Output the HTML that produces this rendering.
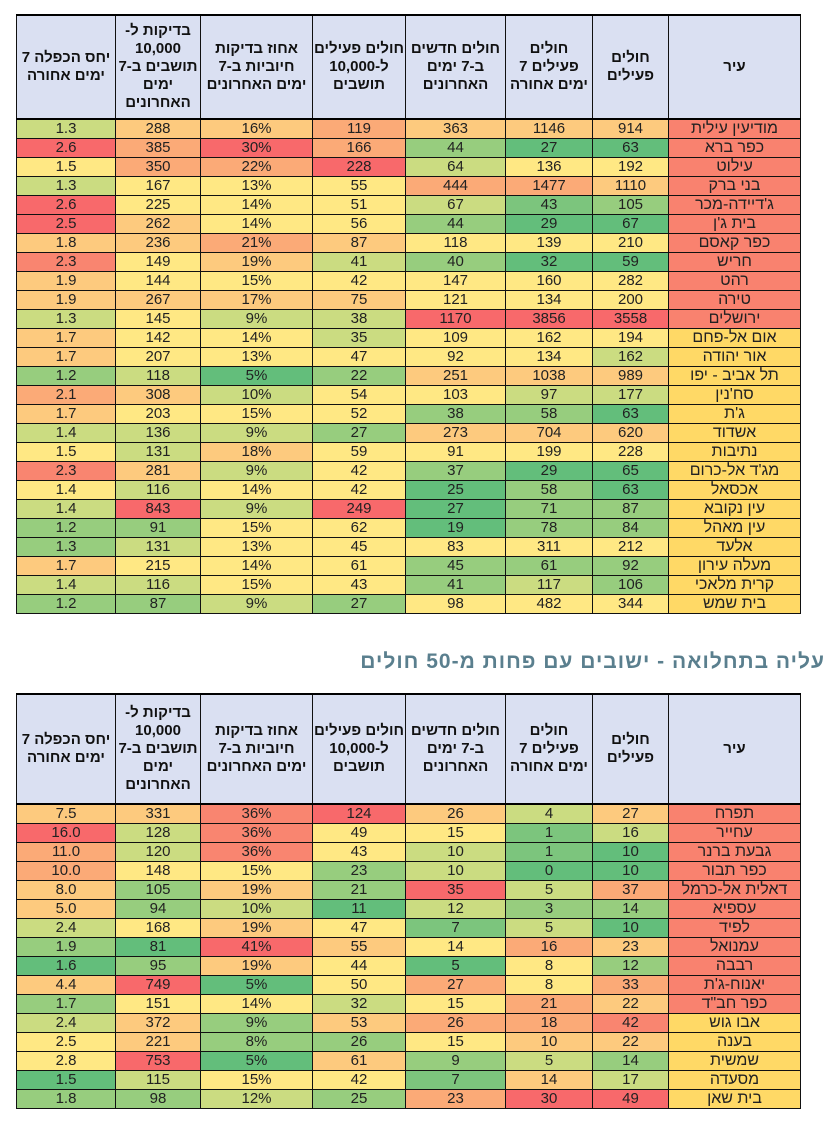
<!DOCTYPE html>
<html><head><meta charset="utf-8"><style>
body{margin:0;width:833px;height:1127px;background:#fff;position:relative;overflow:hidden;font-family:"Liberation Sans Narrow","Liberation Sans","DejaVu Sans",sans-serif}
table{position:absolute;left:16px;width:784px;border-collapse:collapse;table-layout:fixed;direction:rtl}
td,th{border:1px solid #111;text-align:center;padding:0;color:#222;font-size:15px;overflow:hidden;white-space:nowrap}
th{background:#dae0f2;font-weight:bold;font-size:15px;line-height:18px;white-space:nowrap;font-family:"Liberation Sans","DejaVu Sans",sans-serif;color:#111}
tr.h th{border-top:2px solid #000;border-bottom:2px solid #000}
#t1 td{height:18px;line-height:18px}
#t2 td{height:18px;line-height:18px}
td:first-child{font-size:16px}
.R{background:#f8696b}.S{background:#f98570}.O{background:#fbaa77}.L{background:#fdca7e}.Y{background:#ffe884}
.K{background:#cbdc81}.G{background:#97cd7e}.g{background:#7cc57d}.D{background:#63be7b}.P{background:#ffd966}.C{background:#f9826f}
.title{position:absolute;right:8px;top:650px;font:bold 21px "Liberation Sans","DejaVu Sans",sans-serif;color:#5a7f8e;direction:rtl;letter-spacing:1px}
</style></head><body>
<table id="t1" style="top:14px">
<colgroup><col style="width:132px"><col style="width:76px"><col style="width:87px"><col style="width:100px"><col style="width:93px"><col style="width:112px"><col style="width:85px"><col style="width:99px"></colgroup>
<tr class="h" style="height:104px"><th>עיר</th><th>חולים<br>פעילים</th><th>חולים<br>פעילים 7<br>ימים אחורה</th><th>חולים חדשים<br>ב-7 ימים<br>האחרונים</th><th>חולים פעילים<br>ל-10,000<br>תושבים</th><th>אחוז בדיקות<br>חיוביות ב-7<br>ימים האחרונים</th><th>בדיקות ל-<br>10,000<br>תושבים ב-7<br>ימים<br>האחרונים</th><th>יחס הכפלה 7<br>ימים אחורה</th></tr>
<tr><td class="C">מודיעין עילית</td><td class="L">914</td><td class="L">1146</td><td class="L">363</td><td class="O">119</td><td class="L">16%</td><td class="L">288</td><td class="K">1.3</td></tr>
<tr><td class="C">כפר ברא</td><td class="D">63</td><td class="D">27</td><td class="G">44</td><td class="O">166</td><td class="R">30%</td><td class="O">385</td><td class="R">2.6</td></tr>
<tr><td class="C">עילוט</td><td class="Y">192</td><td class="Y">136</td><td class="K">64</td><td class="R">228</td><td class="O">22%</td><td class="O">350</td><td class="Y">1.5</td></tr>
<tr><td class="C">בני ברק</td><td class="L">1110</td><td class="O">1477</td><td class="O">444</td><td class="Y">55</td><td class="Y">13%</td><td class="Y">167</td><td class="K">1.3</td></tr>
<tr><td class="C">ג'דיידה-מכר</td><td class="G">105</td><td class="g">43</td><td class="K">67</td><td class="Y">51</td><td class="Y">14%</td><td class="Y">225</td><td class="R">2.6</td></tr>
<tr><td class="C">בית ג'ן</td><td class="D">67</td><td class="D">29</td><td class="G">44</td><td class="Y">56</td><td class="Y">14%</td><td class="L">262</td><td class="R">2.5</td></tr>
<tr><td class="C">כפר קאסם</td><td class="Y">210</td><td class="Y">139</td><td class="Y">118</td><td class="L">87</td><td class="O">21%</td><td class="L">236</td><td class="L">1.8</td></tr>
<tr><td class="C">חריש</td><td class="D">59</td><td class="D">32</td><td class="G">40</td><td class="K">41</td><td class="L">19%</td><td class="Y">149</td><td class="S">2.3</td></tr>
<tr><td class="C">רהט</td><td class="Y">282</td><td class="Y">160</td><td class="Y">147</td><td class="Y">42</td><td class="Y">15%</td><td class="Y">144</td><td class="L">1.9</td></tr>
<tr><td class="C">טירה</td><td class="Y">200</td><td class="Y">134</td><td class="Y">121</td><td class="L">75</td><td class="L">17%</td><td class="L">267</td><td class="L">1.9</td></tr>
<tr><td class="C">ירושלים</td><td class="R">3558</td><td class="R">3856</td><td class="R">1170</td><td class="K">38</td><td class="K">9%</td><td class="Y">145</td><td class="K">1.3</td></tr>
<tr><td class="P">אום אל-פחם</td><td class="Y">194</td><td class="Y">162</td><td class="Y">109</td><td class="K">35</td><td class="Y">14%</td><td class="Y">142</td><td class="L">1.7</td></tr>
<tr><td class="P">אור יהודה</td><td class="K">162</td><td class="Y">134</td><td class="Y">92</td><td class="Y">47</td><td class="Y">13%</td><td class="Y">207</td><td class="L">1.7</td></tr>
<tr><td class="P">תל אביב - יפו</td><td class="L">989</td><td class="L">1038</td><td class="L">251</td><td class="G">22</td><td class="D">5%</td><td class="K">118</td><td class="G">1.2</td></tr>
<tr><td class="P">סח'נין</td><td class="K">177</td><td class="K">97</td><td class="Y">103</td><td class="Y">54</td><td class="K">10%</td><td class="L">308</td><td class="O">2.1</td></tr>
<tr><td class="P">ג'ת</td><td class="D">63</td><td class="G">58</td><td class="G">38</td><td class="Y">52</td><td class="Y">15%</td><td class="Y">203</td><td class="L">1.7</td></tr>
<tr><td class="P">אשדוד</td><td class="L">620</td><td class="L">704</td><td class="L">273</td><td class="G">27</td><td class="K">9%</td><td class="K">136</td><td class="K">1.4</td></tr>
<tr><td class="P">נתיבות</td><td class="Y">228</td><td class="Y">199</td><td class="Y">91</td><td class="Y">59</td><td class="L">18%</td><td class="K">131</td><td class="Y">1.5</td></tr>
<tr><td class="P">מג'ד אל-כרום</td><td class="D">65</td><td class="D">29</td><td class="G">37</td><td class="Y">42</td><td class="K">9%</td><td class="L">281</td><td class="S">2.3</td></tr>
<tr><td class="P">אכסאל</td><td class="D">63</td><td class="G">58</td><td class="D">25</td><td class="Y">42</td><td class="Y">14%</td><td class="K">116</td><td class="Y">1.4</td></tr>
<tr><td class="P">עין נקובא</td><td class="G">87</td><td class="G">71</td><td class="D">27</td><td class="R">249</td><td class="K">9%</td><td class="R">843</td><td class="K">1.4</td></tr>
<tr><td class="P">עין מאהל</td><td class="G">84</td><td class="G">78</td><td class="D">19</td><td class="Y">62</td><td class="Y">15%</td><td class="G">91</td><td class="G">1.2</td></tr>
<tr><td class="P">אלעד</td><td class="Y">212</td><td class="Y">311</td><td class="Y">83</td><td class="Y">45</td><td class="Y">13%</td><td class="K">131</td><td class="G">1.3</td></tr>
<tr><td class="P">מעלה עירון</td><td class="G">92</td><td class="G">61</td><td class="G">45</td><td class="Y">61</td><td class="Y">14%</td><td class="Y">215</td><td class="L">1.7</td></tr>
<tr><td class="P">קרית מלאכי</td><td class="G">106</td><td class="K">117</td><td class="G">41</td><td class="Y">43</td><td class="Y">15%</td><td class="K">116</td><td class="K">1.4</td></tr>
<tr><td class="P">בית שמש</td><td class="Y">344</td><td class="Y">482</td><td class="Y">98</td><td class="G">27</td><td class="K">9%</td><td class="G">87</td><td class="G">1.2</td></tr>
</table>

<div class="title">עליה בתחלואה - ישובים עם פחות מ-50 חולים</div>

<table id="t2" style="top:693px">
<colgroup><col style="width:132px"><col style="width:76px"><col style="width:87px"><col style="width:100px"><col style="width:93px"><col style="width:112px"><col style="width:85px"><col style="width:99px"></colgroup>
<tr class="h" style="height:110px"><th>עיר</th><th>חולים<br>פעילים</th><th>חולים<br>פעילים 7<br>ימים אחורה</th><th>חולים חדשים<br>ב-7 ימים<br>האחרונים</th><th>חולים פעילים<br>ל-10,000<br>תושבים</th><th>אחוז בדיקות<br>חיוביות ב-7<br>ימים האחרונים</th><th>בדיקות ל-<br>10,000<br>תושבים ב-7<br>ימים<br>האחרונים</th><th>יחס הכפלה 7<br>ימים אחורה</th></tr>
<tr><td class="C">תפרח</td><td class="L">27</td><td class="K">4</td><td class="L">26</td><td class="R">124</td><td class="S">36%</td><td class="L">331</td><td class="L">7.5</td></tr>
<tr><td class="C">עחייר</td><td class="K">16</td><td class="g">1</td><td class="Y">15</td><td class="Y">49</td><td class="S">36%</td><td class="K">128</td><td class="R">16.0</td></tr>
<tr><td class="C">גבעת ברנר</td><td class="D">10</td><td class="g">1</td><td class="K">10</td><td class="Y">43</td><td class="S">36%</td><td class="K">120</td><td class="O">11.0</td></tr>
<tr><td class="C">כפר תבור</td><td class="D">10</td><td class="D">0</td><td class="K">10</td><td class="G">23</td><td class="Y">15%</td><td class="Y">148</td><td class="O">10.0</td></tr>
<tr><td class="C">דאלית אל-כרמל</td><td class="O">37</td><td class="K">5</td><td class="R">35</td><td class="G">21</td><td class="L">19%</td><td class="G">105</td><td class="L">8.0</td></tr>
<tr><td class="C">עספיא</td><td class="G">14</td><td class="G">3</td><td class="K">12</td><td class="D">11</td><td class="K">10%</td><td class="G">94</td><td class="L">5.0</td></tr>
<tr><td class="C">לפיד</td><td class="D">10</td><td class="K">5</td><td class="g">7</td><td class="Y">47</td><td class="L">19%</td><td class="Y">168</td><td class="K">2.4</td></tr>
<tr><td class="C">עמנואל</td><td class="L">23</td><td class="O">16</td><td class="Y">14</td><td class="L">55</td><td class="R">41%</td><td class="D">81</td><td class="G">1.9</td></tr>
<tr><td class="C">רבבה</td><td class="G">12</td><td class="Y">8</td><td class="D">5</td><td class="Y">44</td><td class="L">19%</td><td class="G">95</td><td class="D">1.6</td></tr>
<tr><td class="C">יאנוח-ג'ת</td><td class="O">33</td><td class="Y">8</td><td class="O">27</td><td class="Y">50</td><td class="D">5%</td><td class="R">749</td><td class="L">4.4</td></tr>
<tr><td class="C">כפר חב"ד</td><td class="L">22</td><td class="O">21</td><td class="Y">15</td><td class="K">32</td><td class="Y">14%</td><td class="Y">151</td><td class="G">1.7</td></tr>
<tr><td class="P">אבו גוש</td><td class="S">42</td><td class="O">18</td><td class="O">26</td><td class="L">53</td><td class="G">9%</td><td class="L">372</td><td class="K">2.4</td></tr>
<tr><td class="P">בענה</td><td class="L">22</td><td class="L">10</td><td class="Y">15</td><td class="G">26</td><td class="G">8%</td><td class="L">221</td><td class="Y">2.5</td></tr>
<tr><td class="P">שמשית</td><td class="G">14</td><td class="K">5</td><td class="G">9</td><td class="L">61</td><td class="D">5%</td><td class="R">753</td><td class="Y">2.8</td></tr>
<tr><td class="P">מסעדה</td><td class="K">17</td><td class="L">14</td><td class="g">7</td><td class="Y">42</td><td class="Y">15%</td><td class="K">115</td><td class="D">1.5</td></tr>
<tr><td class="P">בית שאן</td><td class="R">49</td><td class="R">30</td><td class="O">23</td><td class="G">25</td><td class="K">12%</td><td class="G">98</td><td class="G">1.8</td></tr>
</table>
</body></html>
